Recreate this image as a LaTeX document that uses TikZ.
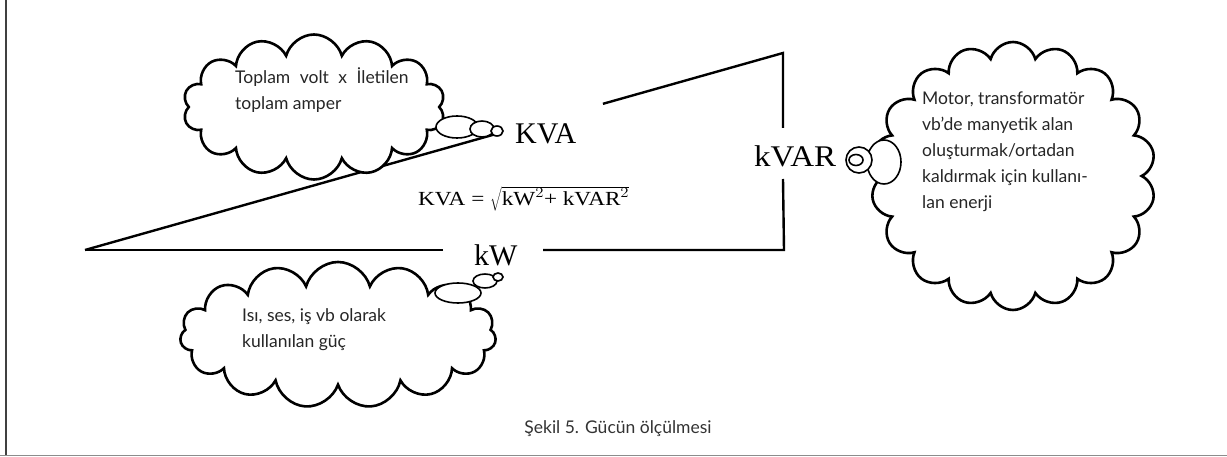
\documentclass[tikz,border=0pt]{standalone}
\usepackage{fontspec}
\setmainfont{Liberation Serif}
\newfontfamily\notefont{Lato}
\usetikzlibrary{shapes.symbols,shapes.geometric,calc}
\begin{document}
\begin{tikzpicture}[x=1pt,y=-1pt,
  puff/.style={cloud, draw=black, fill=white, line width=2.6pt, cloud ignores aspect, inner sep=0pt},
  bubble/.style={ellipse, draw=black, fill=white, line width=1.6pt, inner sep=0pt},
  side/.style={line width=2.4pt, black},
  qty/.style={font=\fontsize{30}{34}\selectfont, inner sep=0pt},
  note/.style={font=\notefont\fontsize{17.5}{26}\selectfont, text=black!85, align=left, inner sep=0pt, anchor=north west},
  frame/.style={line width=1.2pt}]
\useasboundingbox (0,0) rectangle (1227,457);

% page frame
\draw[frame, black!75] (6,0) -- (6,456);
\draw[frame, black!45] (0,455.5) -- (1227,455.5);

% power triangle
\coordinate (A) at (85,250);
\coordinate (B) at (783,53);
\coordinate (C) at (784,250);
\coordinate (h1) at ($(A)!0.587!(B)$);
\coordinate (h2) at ($(A)!0.742!(B)$);
\coordinate (v1) at (783,128);
\coordinate (v2) at (783,179);
\coordinate (b1) at (543,250);
\coordinate (b2) at (443,250);
\draw[side] (A) -- (h1);
\draw[side] (h2) -- (B) -- (v1);
\draw[side] (v2) -- (C) -- (b1);
\draw[side] (b2) -- (A);

\node[qty, anchor=base west] (kva) at (515,144) {KVA};
\node[qty, anchor=base west] (kw) at (474,266) {kW};
\node[qty, anchor=base west] (kvar) at (754,167) {\scalebox{1.1}[1]{kVAR}};

\node[anchor=base west, inner sep=0pt, font=\fontsize{20}{22}\selectfont] (eq) at (418,206)
  {\scalebox{1.16}[1]{KVA = $\sqrt{\mathstrut\mbox{kW}^{2}\mbox{+ kVAR}^{2}}$}};

% thought clouds
\node[puff, cloud puffs=14, minimum width=262pt, minimum height=145pt] (c1) at (314,107) {};
\node[puff, cloud puffs=15, minimum width=316pt, minimum height=146pt] (c2) at (338,335) {};
\node[puff, cloud puffs=18, minimum width=285pt, minimum height=268pt] (c3) at (1013,176) {};

% bubbles trailing to each label
\node[bubble, minimum width=42pt, minimum height=22pt] (t1a) at (457,127) {};
\node[bubble, minimum width=24pt, minimum height=16pt] (t1b) at (482,129) {};
\node[bubble, minimum width=12pt, minimum height=10pt] (t1c) at (497,131) {};

\node[bubble, minimum width=46pt, minimum height=20pt] (t2a) at (458,293) {};
\node[bubble, minimum width=24pt, minimum height=14pt] (t2b) at (485,281) {};
\node[bubble, minimum width=10pt, minimum height=8pt] (t2c) at (498,277) {};

\node[bubble, minimum width=34pt, minimum height=44pt] (t3a) at (884,162) {};
\node[bubble, minimum width=26pt, minimum height=26pt] (t3b) at (859,160) {};
\node[bubble, minimum width=14pt, minimum height=11pt] (t3c) at (856,160) {};

% cloud texts
\node[note] (n1) at (235,67) {Toplam\hspace{5pt} volt\hspace{5pt} x\hspace{5pt} İletilen\\toplam amper};
\node[note] (n2) at (242,308) {Isı, ses, iş vb olarak\\kullanılan güç};
\node[note] (n3) at (922,92) {Motor, transformatör\\vb’de manyetik alan\\oluşturmak/ortadan\\kaldırmak için kullanı-\\lan enerji};

% caption
\node[anchor=base, inner sep=0pt, font=\notefont\fontsize{17.5}{20}\selectfont, text=black!80] (cap) at (618,433) {Şekil 5. Gücün ölçülmesi};
\end{tikzpicture}
\end{document}
